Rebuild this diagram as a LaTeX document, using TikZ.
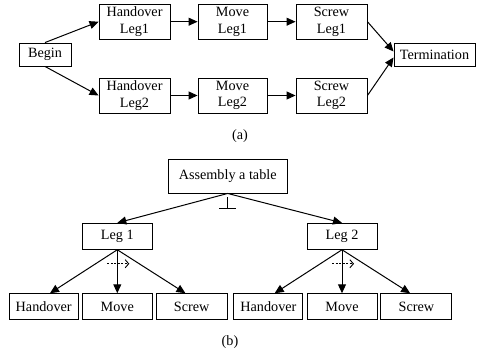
\documentclass[tikz,border=0pt]{standalone}
\usepackage{fontspec}
\setmainfont{Liberation Serif}
\usepackage{tikz}
\usetikzlibrary{arrows.meta}

\begin{document}
\begin{tikzpicture}[x=1pt,y=-1pt,
  font=\fontsize{14.2}{16.5}\selectfont,
  box/.style={draw,line width=0.9pt,inner sep=0pt,align=center,minimum height=26pt,minimum width=70pt},
  arr/.style={line width=1pt,-{Triangle[length=9pt,width=8pt]}},
  cue/.style={line width=0.9pt,dash pattern=on 2pt off 1.5pt,-{Straight Barb[length=3.5pt,width=8pt]}}]

\useasboundingbox (0,0) rectangle (483,354);

% (a) the two legs in parallel
\node[box,minimum width=52pt,minimum height=23pt] (begin) at (45,54.5){Begin};
\node[box,minimum width=81pt,minimum height=23pt] (term) at (434.5,54.5){Termination};
\foreach \i/\y/\e in {1/21.7/north,2/95.5/south}
{
\node[box,minimum width=71pt,minimum height=35pt] (ho\i) at (134.5,\y){Handover\\Leg\i};
\node[box,minimum width=69pt,minimum height=35pt] (mv\i) at (232.5,\y){Move\\Leg\i};
\node[box,minimum width=71pt,minimum height=35pt] (sc\i) at (331.5,\y){Screw\\Leg\i};
\draw[arr] (begin.\e)--(ho\i.west);
\draw[arr] (ho\i.east)--(mv\i.west);
\draw[arr] (mv\i.east)--(sc\i.west);
}
\draw[arr] (sc1.east)--([yshift=3pt]term.west);
\draw[arr] (sc2.east)--([yshift=-3pt]term.west);
\node (capa) at (240,136){(a)};

% (b) task tree
\node[box,minimum width=119pt,minimum height=34pt] (asm) at (227.7,176){Assembly a table};
\draw[line width=0.9pt] ([yshift=-4pt]asm.south)--++(0,10.7) ++(-8.7,0)--++(17.4,0);
\foreach \i/\x in {1/117.3,2/342}
{
\node[box] (leg\i) at (\x,236.3){Leg \i};
\node[box,minimum width=69pt] (hb\i) at (\x-73.6,306.7){Handover};
\node[box] (mb\i) at (\x,306.7){Move};
\node[box,minimum width=71pt] (sb\i) at (\x+74.4,306.7){Screw};
\draw[arr] (asm.south)--(leg\i.north);
\draw[arr] (leg\i.south)--(hb\i.65);
\draw[arr] (leg\i.south)--(mb\i.north);
\draw[arr] (leg\i.south)--(sb\i.115);
\draw[cue] ([shift={(-10,14)}]leg\i.south)--++(22,0);
}
\node (capb) at (230,341.7){(b)};

\end{tikzpicture}
\end{document}
